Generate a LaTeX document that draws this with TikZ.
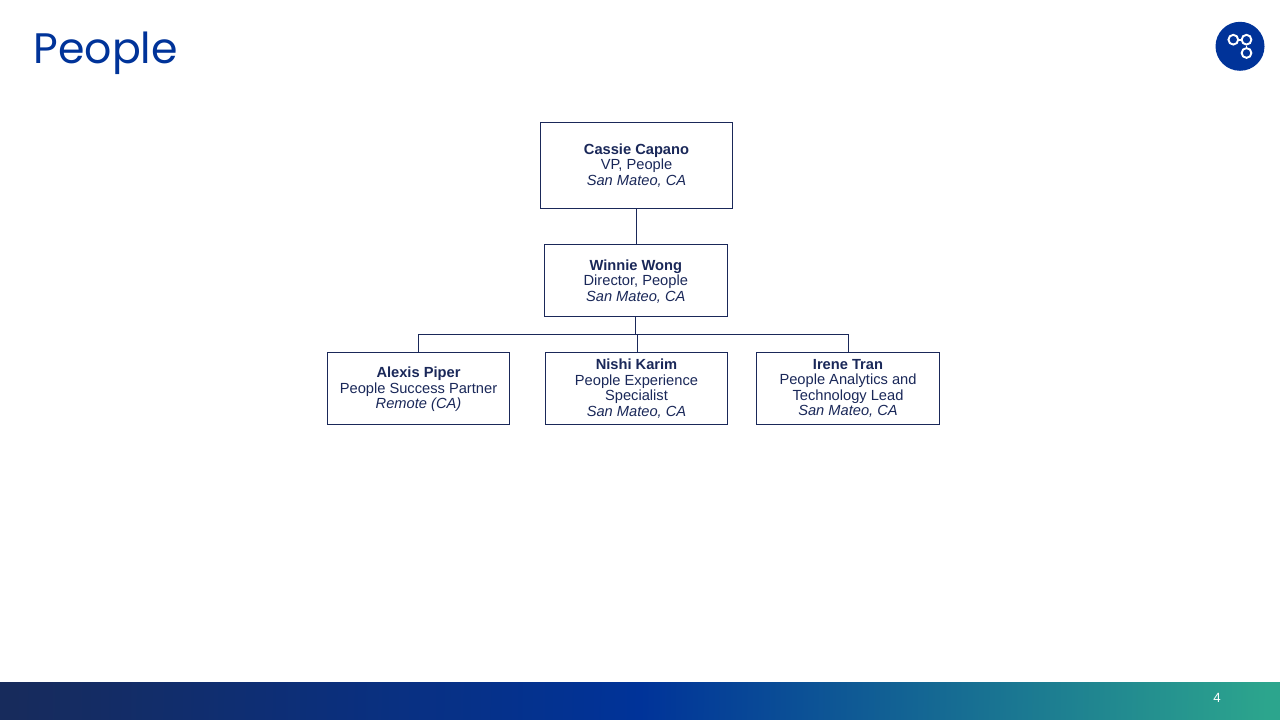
\documentclass[tikz,border=0pt]{standalone}
\usepackage{fontspec}
\setmainfont{Liberation Sans}
\newfontfamily\titlefont{Poppins}
\definecolor{navy}{HTML}{1A2859}
\definecolor{brandblue}{HTML}{003399}
\definecolor{barleft}{HTML}{172B5C}
\definecolor{barright}{HTML}{2CA58D}
\tikzset{
  orgbox/.style={draw=navy,line width=0.7pt,fill=white,text=navy,align=center,inner sep=0pt,
    font=\fontsize{11pt}{11.6pt}\selectfont},
  orgline/.style={draw=navy,line width=0.6pt},
  logoring/.style={draw=white,line width=1.45pt,circle,minimum size=7.3pt,inner sep=0pt},
  logolink/.style={draw=white,line width=1.45pt}
}
\newcommand{\orgtext}[3]{\textbf{#1}\\#2\\\textit{#3}}
\newcommand{\nudgedown}{\rule{0pt}{9.5pt}}
\begin{document}
\begin{tikzpicture}[x=0.75pt,y=-0.75pt]
\useasboundingbox (0,0) rectangle (1280,720);
\fill[left color=barleft,right color=barright,middle color=brandblue,shading angle=88.93] (0,682) rectangle (1280,720);
\node[anchor=base west,inner sep=0pt,text=brandblue,font=\titlefont\fontsize{32pt}{36pt}\selectfont] (title) at (33.3,63.5) {People};
\node[anchor=center,inner sep=0pt,text=white,font=\fontsize{10pt}{10pt}\selectfont] (page) at (1217,698) {4};
% logo
\fill[brandblue] (1240,46.3) circle[radius=24.5];
\node[logoring] (r1) at (1233.3,39.7) {};
\node[logoring] (r2) at (1246.5,39.7) {};
\node[logoring] (r3) at (1246.5,53) {};
\draw[logolink] (r1) -- (r2);
\draw[logolink] (r2) -- (r3);
% org chart
\node[orgbox,minimum width=144pt,minimum height=64.5pt] (cassie) at (636.5,165.5) {\orgtext{Cassie Capano}{VP, People}{San Mateo, CA}};
\node[orgbox,minimum width=137pt,minimum height=54pt] (winnie) at (635.8,280.5) {\nudgedown\orgtext{Winnie Wong}{Director, People}{San Mateo, CA}};
\node[orgbox,minimum width=136.5pt,minimum height=54pt] (alexis) at (418.5,388.5) {\nudgedown\orgtext{Alexis Piper}{People Success Partner}{Remote (CA)}};
\node[orgbox,minimum width=136.5pt,minimum height=54pt] (nishi) at (636.5,388.5) {\textbf{Nishi Karim}\\People Experience\\Specialist\\\textit{San Mateo, CA}};
\node[orgbox,minimum width=137.25pt,minimum height=54pt] (irene) at (848,388.5) {\textbf{Irene Tran}\\People Analytics and\\Technology Lead\\\textit{San Mateo, CA}};
\coordinate (bus) at (635.8,334);
\draw[orgline] (cassie.south) -- (cassie.south |- winnie.north);
\draw[orgline,line width=0.8pt] (winnie.south) -- (bus);
\draw[orgline] (bus) -| (alexis.north);
\draw[orgline] (bus) -| (irene.north);
\draw[orgline] (bus) -| ([xshift=0.3pt]nishi.north);
\end{tikzpicture}
\end{document}
